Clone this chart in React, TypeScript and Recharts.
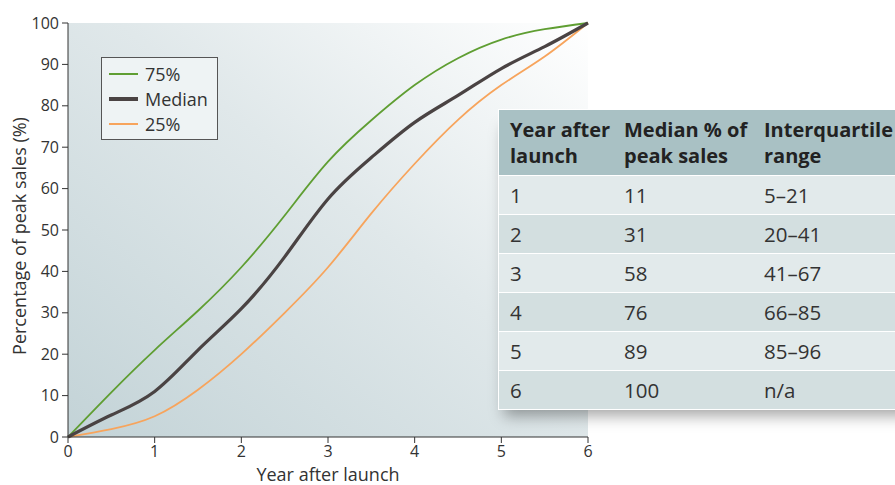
import React from 'react';
import { LineChart, Line, XAxis, YAxis, ReferenceArea } from 'recharts';

// values at half-year steps
const years = [0, 0.5, 1, 1.5, 2, 2.5, 3, 3.5, 4, 4.5, 5, 5.5, 6];
const upperQuartile = [0, 10.8, 21, 30.5, 41, 53.5, 66.5, 76.5, 85, 91.5, 96, 98.5, 100];
const median = [0, 5.3, 11, 21, 31, 43.5, 57.5, 67.5, 76, 82.5, 89, 94.3, 100];
const lowerQuartile = [0, 1.9, 5, 11.4, 20, 30, 41, 54, 66, 76.6, 85, 91.9, 100];

const xTicks = [0, 1, 2, 3, 4, 5, 6];
const yTicks = [0, 10, 20, 30, 40, 50, 60, 70, 80, 90, 100];

const tableYears = ['1', '2', '3', '4', '5', '6'];
const tableMedians = ['11', '31', '58', '76', '89', '100'];
const tableRanges = ['5–21', '20–41', '41–67', '66–85', '85–96', 'n/a'];

const FONT = '"Open Sans", "Noto Sans", sans-serif';
const GREEN = '#5f9e32';
const DARK = '#4a4343';
const ORANGE = '#f7a45c';

const data = years.map((y, i) => ({
  year: y,
  q75: upperQuartile[i],
  median: median[i],
  q25: lowerQuartile[i],
}));

const legendItems = [
  { label: '75%', color: GREEN, width: 2 },
  { label: 'Median', color: DARK, width: 4 },
  { label: '25%', color: ORANGE, width: 2 },
];

function LegendBox() {
  return (
    <div
      style={{
        position: 'absolute',
        left: 101,
        top: 57,
        width: 117,
        height: 83,
        border: '1px solid #555',
        background: '#eef3f4',
        fontFamily: FONT,
        fontSize: 18,
        color: '#333',
        paddingTop: 3,
        boxSizing: 'border-box',
      }}
    >
      {legendItems.map((it) => (
        <div key={it.label} style={{ display: 'flex', alignItems: 'center', height: 25 }}>
          <div style={{ width: 29, height: it.width, background: it.color, marginLeft: 7, marginRight: 7 }} />
          <span>{it.label}</span>
        </div>
      ))}
    </div>
  );
}

const YLabel = () => (
  <text
    x={19}
    y={236}
    transform="rotate(-90 19 236)"
    textAnchor="middle"
    dominantBaseline="central"
    fill="#333"
    fontSize={18}
    fontFamily={FONT}
  >
    Percentage of peak sales (%)
  </text>
);

export default function App() {
  const rowBg = (i: number) => (i % 2 === 0 ? '#e2eaeb' : '#d3dfe0');
  return (
    <div style={{ position: 'fixed', left: 0, top: 0, width: 895, height: 485, background: '#fff', overflow: 'hidden' }}>
      <LineChart width={895} height={485} data={data} margin={{ top: 23, right: 307, bottom: 0, left: 0 }}>
        <defs>
          <linearGradient id="bg" x1="0" y1="1" x2="1" y2="0">
            <stop offset="0%" stopColor="#c3d3d7" />
            <stop offset="55%" stopColor="#e0e8ea" />
            <stop offset="100%" stopColor="#ffffff" />
          </linearGradient>
        </defs>
        <ReferenceArea x1={0} x2={6} y1={0} y2={100} fill="url(#bg)" fillOpacity={1} stroke="none" />
        <XAxis
          dataKey="year"
          type="number"
          domain={[0, 6]}
          ticks={xTicks}
          height={48}
          stroke="#333"
          tickSize={6}
          tick={{ fill: '#333', fontSize: 16, fontFamily: FONT }}
          tickMargin={3}
          label={{ value: 'Year after launch', position: 'insideBottom', offset: 4, fill: '#333', fontSize: 18, fontFamily: FONT }}
        />
        <YAxis
          type="number"
          domain={[0, 100]}
          ticks={yTicks}
          width={68}
          stroke="#333"
          tickSize={6}
          tick={{ fill: '#333', fontSize: 16, fontFamily: FONT }}
          tickMargin={3}
          label={<YLabel />}
        />
        <Line type="natural" dataKey="q75" stroke={GREEN} strokeWidth={1.8} dot={false} isAnimationActive={false} />
        <Line type="natural" dataKey="q25" stroke={ORANGE} strokeWidth={1.8} dot={false} isAnimationActive={false} />
        <Line type="natural" dataKey="median" stroke={DARK} strokeWidth={3.2} dot={false} isAnimationActive={false} />
      </LineChart>

      <LegendBox />

      <div
        style={{
          position: 'absolute',
          left: 498,
          top: 109,
          width: 420,
          border: '1px solid #fff',
          boxShadow: '0 12px 14px -6px rgba(0,0,0,0.35)',
          fontFamily: FONT,
          color: '#333',
          background: '#fff',
        }}
      >
        <div style={{ display: 'flex', height: 65, background: '#a9c1c4', fontWeight: 700, fontSize: 20, color: '#222', lineHeight: '26px', alignItems: 'center' }}>
          <div style={{ width: 125, paddingLeft: 11, boxSizing: 'border-box' }}>Year after<br />launch</div>
          <div style={{ width: 140 }}>Median % of<br />peak sales</div>
          <div>Interquartile<br />range</div>
        </div>
        {tableYears.map((y, i) => (
          <div
            key={y}
            style={{
              display: 'flex',
              alignItems: 'center',
              height: 38,
              marginTop: 1,
              fontSize: 20.5,
              background: rowBg(i),
            }}
          >
            <div style={{ width: 125, paddingLeft: 11, boxSizing: 'border-box' }}>{y}</div>
            <div style={{ width: 140 }}>{tableMedians[i]}</div>
            <div>{tableRanges[i]}</div>
          </div>
        ))}
      </div>
    </div>
  );
}
